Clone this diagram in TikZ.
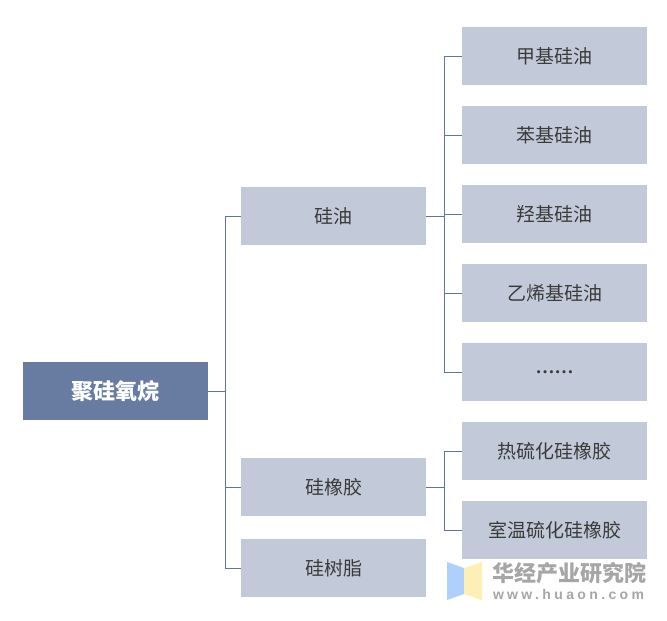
\documentclass[tikz,border=0pt]{standalone}
\usepackage{fontspec}
\setmainfont{Noto Sans CJK SC}
\newfontfamily\latinserif{Liberation Serif}
\newfontfamily\wmlatin[LetterSpace=24]{Liberation Sans}
\definecolor{rootfill}{HTML}{687CA2}
\definecolor{boxfill}{HTML}{C2CAD9}
\definecolor{linkcol}{HTML}{5F75A0}
\definecolor{txt}{HTML}{3A3A3A}
\definecolor{wm}{HTML}{A6A6A6}
\definecolor{logob}{HTML}{AFD0FB}
\definecolor{logoy}{HTML}{FDEFB5}
\tikzset{
  leaf/.style={fill=boxfill,minimum width=185pt,minimum height=58pt,inner sep=0pt,outer sep=0pt,text=txt,font=\fontsize{19}{21}\selectfont},
  rootbox/.style={fill=rootfill,minimum width=185pt,minimum height=58pt,inner sep=0pt,outer sep=0pt,text=white,font=\fontsize{22}{24}\selectfont\bfseries},
  link/.style={draw=linkcol,line width=1pt},
  wmtext/.style={inner sep=0pt,outer sep=0pt,text=wm}
}
\begin{document}
\begin{tikzpicture}[x=1pt,y=-1pt]
\useasboundingbox (0,0) rectangle (667,621);
\fill[white] (0,0) rectangle (667,621);
\node[rootbox] (root) at (115.5,391) {聚硅氧烷};
\node[leaf] (oil) at (333.5,216) {硅油};
\node[leaf] (rub) at (333.5,487) {硅橡胶};
\node[leaf] (res) at (333.5,568) {硅树脂};
\node[leaf] (a1) at (554.5,56) {甲基硅油};
\node[leaf] (a2) at (554.5,135) {苯基硅油};
\node[leaf] (a3) at (554.5,214) {羟基硅油};
\node[leaf] (a4) at (554.5,293) {乙烯基硅油};
\node[leaf,font=\fontsize{19}{21}\selectfont\latinserif\bfseries] (a5) at (554.5,372) {……};
\node[leaf] (b1) at (554.5,451) {热硫化硅橡胶};
\node[leaf] (b2) at (554.5,530) {室温硫化硅橡胶};
\coordinate (j0) at (225,391);
\coordinate (j1) at (444,216);
\coordinate (j2) at (444,487);
\draw[link] (root.east) -- (j0);
\foreach \t in {oil,rub,res} \draw[link] (j0) |- (\t.west);
\draw[link] (oil.east) -- (j1);
\foreach \t in {a1,a2,a3,a4,a5} \draw[link] (j1) |- (\t.west);
\draw[link] (rub.east) -- (j2);
\foreach \t in {b1,b2} \draw[link] (j2) |- (\t.west);
\fill[logob] (447,562) -- (464,568) -- (464,594) -- (447,600) -- cycle;
\fill[logoy] (464,568) -- (482,562) -- (482,600) -- (464,594) -- cycle;
\node[wmtext,anchor=west,font=\fontsize{22}{24}\selectfont\bfseries] (wm1) at (492,573.5) {华经产业研究院};
\node[wmtext,anchor=west,font=\fontsize{14}{16}\selectfont\wmlatin\bfseries] (wm2) at (493,594.5) {www.huaon.com};
\end{tikzpicture}
\end{document}
